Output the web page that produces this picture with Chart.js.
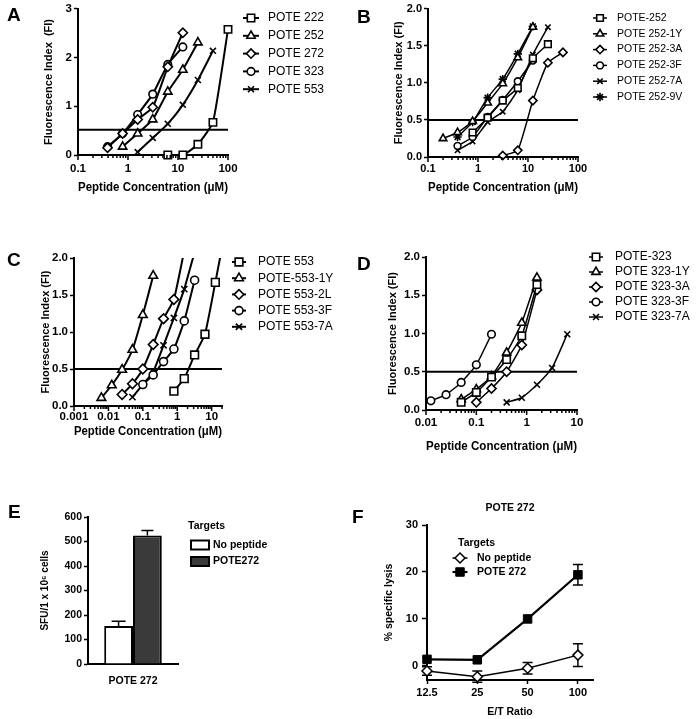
<!DOCTYPE html>
<html lang="en">
<head>
<meta charset="UTF-8">
<title>POTE peptides: binding, ELISPOT and lysis</title>
<script src="https://cdn.jsdelivr.net/npm/chart.js"></script>
<style>
  html, body { margin: 0; padding: 0; background: #fff; }
  body { position: relative; width: 697px; height: 719px; overflow: hidden; }
  canvas { position: absolute; }
  .tag { position: absolute; font: bold 19px "Liberation Sans", Arial, sans-serif; line-height: 20px; color: #000; }
</style>
</head>
<body>
  <canvas id="chartA" width="348" height="215" style="left:0;top:0"></canvas>
  <canvas id="chartB" width="347" height="215" style="left:350px;top:0"></canvas>
  <canvas id="chartC" width="348" height="230" style="left:0;top:230px"></canvas>
  <canvas id="chartD" width="347" height="230" style="left:350px;top:230px"></canvas>
  <canvas id="chartE" width="348" height="259" style="left:0;top:460px"></canvas>
  <canvas id="chartF" width="347" height="259" style="left:350px;top:460px"></canvas>

  <div class="tag" style="left:7px;top:5px">A</div>
  <div class="tag" style="left:357px;top:7px">B</div>
  <div class="tag" style="left:7px;top:250px">C</div>
  <div class="tag" style="left:357px;top:254px">D</div>
  <div class="tag" style="left:8px;top:502px">E</div>
  <div class="tag" style="left:352px;top:507px">F</div>

<script>
// ---- Panel A: parent peptides ----
const concA = [0.39, 0.78, 1.56, 3.125, 6.25, 12.5, 25, 50, 100];
const aPote222 = [null, null, null, null, 0, 0, 0.22, 0.67, 2.58];
const aPote252 = [null, 0.17, 0.44, 0.73, 1.30, 1.75, 2.31, null, null];
const aPote272 = [0.15, 0.44, 0.73, 0.98, 1.81, 2.51, null, null, null];
const aPote323 = [0.17, 0.44, 0.83, 1.25, 1.86, 2.22, null, null, null];
const aPote553 = [null, null, 0.06, 0.35, 0.64, 1.03, 1.54, 2.14, null];
const majorsA = [0.1, 1, 10, 100];

// ---- Panel B: POTE 252 variants ----
const concB = [0.2, 0.39, 0.78, 1.56, 3.125, 6.25, 12.5, 25, 50];
const b252   = [null, null, 0.33, 0.53, 0.76, 0.93, 1.33, 1.52, null];
const b252_1Y = [0.25, 0.33, 0.48, 0.73, 0.99, 1.34, 1.75, null, null];
const b252_3A = [null, null, null, null, 0.02, 0.09, 0.76, 1.27, 1.41];
const b252_3F = [null, 0.15, 0.27, 0.54, 0.77, 1.02, 1.30, null, null];
const b252_7A = [null, 0.09, 0.21, 0.47, 0.61, 0.90, 1.38, 1.75, null];
const b252_9V = [null, 0.27, 0.47, 0.80, 1.05, 1.39, 1.76, null, null];
const majorsB = [0.1, 1, 10, 100];

// ---- Panel C: POTE 553 variants ----
const concC = [0.00625, 0.0125, 0.025, 0.05, 0.1, 0.2, 0.4, 0.8, 1.6, 3.2, 6.4, 12.8, 25.6];
const c553    = [null, null, null, null, null, null, null, 0.20, 0.37, 0.69, 0.97, 1.67, 2.40];
const c553_1Y = [0.11, 0.28, 0.49, 0.76, 1.23, 1.76, null, null, null, null, null, null, null];
const c553_2L = [null, null, 0.155, 0.30, 0.50, 0.83, 1.18, 1.44, 2.10, null, null, null, null];
const c553_3F = [null, null, null, null, 0.29, 0.42, 0.60, 0.77, 1.15, 1.70, null, null, null];
const c553_7A = [null, null, null, 0.12, 0.29, 0.46, 0.82, 1.19, 1.58, 2.08, null, null, null];
const majorsC = [0.001, 0.01, 0.1, 1, 10];

// ---- Panel D: POTE 323 variants ----
const concD = [0.0125, 0.025, 0.05, 0.1, 0.2, 0.4, 0.8, 1.6, 3.2, 6.4];
const d323    = [null, null, 0.10, 0.23, 0.43, 0.66, 0.97, 1.64, null, null];
const d323_1Y = [null, null, 0.14, 0.27, 0.44, 0.75, 1.14, 1.73, null, null];
const d323_3A = [null, null, null, 0.10, 0.28, 0.50, 0.85, 1.57, null, null];
const d323_3F = [0.12, 0.20, 0.36, 0.59, 0.99, null, null, null, null, null];
const d323_7A = [null, null, null, null, null, 0.10, 0.16, 0.33, 0.55, 0.99];
const majorsD = [0.01, 0.1, 1, 10];

const fiTicks3 = [0, 1, 2, 3];
const fiTicks2 = [0, 0.5, 1, 1.5, 2];

// ---- Panel E: ELISPOT ----
const eCategories = ['POTE 272'];
const eNoPeptide = [155];
const eNoPeptideErr = [20];
const ePote272 = [525];
const ePote272Err = [20];
const eTicks = [0, 100, 200, 300, 400, 500, 600];

// ---- Panel F: lysis ----
const fRatios = ['12.5', '25', '50', '100'];
const fNoPeptide = [-1.1, -2.3, -0.5, 2.3];
const fNoPeptideErr = [0.9, 1.2, 1.2, 2.4];
const fPote272 = [1.4, 1.3, 10.0, 19.4];
const fPote272Err = [0, 0, 0, 2.2];
const fTicks = [0, 10, 20, 30];

const FONT = '"Liberation Sans", Arial, sans-serif';
Chart.defaults.font.family = FONT;
Chart.defaults.color = '#000';
Chart.defaults.animation = false;

const MARK_R = { rect: 5.2, rectRot: 4.6, circle: 3.8, triangle: 4.8, crossRot: 4.2, star: 4.6 };

function decadeTicks(majors, max) {
    const out = [];
    majors.forEach(m => {
        for (let k = 1; k < 10; k++) {
            const v = +(m * k).toPrecision(4);
            if (v <= max) out.push(v);
        }
    });
    return out;
}

// short minor ticks, longer ones at the decades
function logTicks(majors) {
    return {
        id: 'logTicks',
        afterDraw(chart) {
            const s = chart.scales.x, ctx = chart.ctx;
            ctx.save();
            ctx.strokeStyle = '#000';
            ctx.lineWidth = 1.5;
            s.ticks.forEach(t => {
                const px = s.getPixelForValue(t.value);
                const len = majors.includes(t.value) ? 5 : 3;
                ctx.beginPath();
                ctx.moveTo(px, s.top);
                ctx.lineTo(px, s.top + len);
                ctx.stroke();
            });
            ctx.restore();
        }
    };
}

function marker(ctx, style, r, fill, bw, x, y) {
    ctx.fillStyle = fill;
    ctx.strokeStyle = '#000';
    ctx.lineWidth = bw;
    Chart.helpers.drawPoint(ctx, { pointStyle: style, radius: r, rotation: 0, borderWidth: bw }, x, y);
}

function legendPlugin(cfg) {
    return {
        id: 'sideLegend',
        afterDraw(chart) {
            const ctx = chart.ctx;
            ctx.save();
            ctx.textBaseline = 'middle';
            ctx.textAlign = 'left';
            if (cfg.title) {
                ctx.fillStyle = '#000';
                ctx.font = cfg.title.font;
                ctx.textAlign = 'center';
                ctx.fillText(cfg.title.text, cfg.title.x, cfg.title.y);
                ctx.textAlign = 'left';
            }
            if (cfg.header) {
                ctx.fillStyle = '#000';
                ctx.font = cfg.headerFont;
                ctx.fillText(cfg.header, cfg.headerX, cfg.headerY);
            }
            let y = cfg.y;
            chart.data.datasets.forEach(ds => {
                if (ds.isRef) return;
                if (cfg.boxes) {
                    ctx.fillStyle = ds.backgroundColor;
                    ctx.fillRect(cfg.x, y - cfg.boxH / 2, cfg.boxW, cfg.boxH);
                    ctx.strokeStyle = '#000';
                    ctx.lineWidth = 2;
                    ctx.strokeRect(cfg.x, y - cfg.boxH / 2, cfg.boxW, cfg.boxH);
                } else {
                    ctx.strokeStyle = '#000';
                    ctx.lineWidth = ds.borderWidth;
                    ctx.beginPath();
                    ctx.moveTo(cfg.x - cfg.lineLen / 2, y);
                    ctx.lineTo(cfg.x + cfg.lineLen / 2, y);
                    ctx.stroke();
                    marker(ctx, ds.pointStyle, ds.pointRadius, ds.pointBackgroundColor, ds.pointBorderWidth, cfg.x, y);
                }
                ctx.fillStyle = '#000';
                ctx.font = cfg.font;
                ctx.fillText(ds.label, cfg.textX, y);
                y += cfg.gap;
            });
            ctx.restore();
        }
    };
}

const errorBars = {
    id: 'errorBars',
    beforeDatasetsDraw(chart) {
        const ctx = chart.ctx, ys = chart.scales.y;
        ctx.save();
        ctx.strokeStyle = '#000';
        chart.data.datasets.forEach((ds, di) => {
            if (!ds.errors) return;
            const meta = chart.getDatasetMeta(di);
            ctx.lineWidth = 1.5;
            meta.data.forEach((el, i) => {
                const err = ds.errors[i];
                if (!err) return;
                const raw = ds.data[i];
                const v = typeof raw === 'object' ? raw.y : raw;
                const top = ys.getPixelForValue(v + err);
                const bottom = ds.errBoth ? ys.getPixelForValue(v - err) : el.y;
                const hw = ds.capWidth / 2;
                ctx.beginPath();
                ctx.moveTo(el.x, top);
                ctx.lineTo(el.x, bottom);
                ctx.moveTo(el.x - hw, top);
                ctx.lineTo(el.x + hw, top);
                if (ds.errBoth) {
                    ctx.moveTo(el.x - hw, bottom);
                    ctx.lineTo(el.x + hw, bottom);
                }
                ctx.stroke();
            });
        });
        ctx.restore();
    }
};

function doseChart(id, p) {
    const yTitleSize = 11, xTitleSize = 12;
    const padLeft = p.box.yTitleX - yTitleSize * 0.6;
    const scaleBottom = p.box.xTitleY + xTitleSize * 0.6;
    const datasets = p.series.map(s => ({
        label: s.label,
        data: p.conc.map((c, i) => ({ x: c, y: s.values[i] })).filter(pt => pt.y !== null),
        borderColor: '#000',
        borderWidth: p.lineWidth,
        tension: 0.15,
        pointStyle: s.marker,
        pointRadius: MARK_R[s.marker] * p.markScale,
        pointBackgroundColor: '#fff',
        pointBorderColor: '#000',
        pointBorderWidth: 1.6,
        clip: { left: false, right: 6, top: 0, bottom: false }
    }));
    datasets.push({
        isRef: true,
        label: 'threshold',
        data: [{ x: p.xMin, y: p.thresh }, { x: p.xMax, y: p.thresh }],
        borderColor: '#000',
        borderWidth: 2,
        pointRadius: 0,
        tension: 0,
        clip: false
    });

    return new Chart(document.getElementById(id), {
        type: 'line',
        data: { datasets },
        options: {
            responsive: false,
            animation: false,
            layout: { padding: { left: padLeft, right: p.box.W - p.box.R, top: p.box.T, bottom: p.box.H - scaleBottom } },
            plugins: { legend: { display: false }, tooltip: { enabled: false } },
            scales: {
                x: {
                    type: 'logarithmic',
                    min: p.xMin,
                    max: p.xMax,
                    afterBuildTicks: s => { s.ticks = decadeTicks(p.majors, p.xMax).map(v => ({ value: v })); },
                    afterFit: s => { s.height = scaleBottom - p.box.B; },
                    ticks: {
                        autoSkip: false, maxRotation: 0, padding: p.box.xTickPad,
                        font: { size: p.tickSize, weight: 'bold' },
                        callback: v => p.majors.includes(v) ? String(v) : ''
                    },
                    grid: { display: false, drawTicks: false },
                    border: { display: true, width: 2, color: '#000' },
                    title: { display: true, text: 'Peptide Concentration (μM)', font: { size: xTitleSize, weight: 'bold' }, padding: 0 }
                },
                y: {
                    min: 0,
                    max: p.yMax,
                    afterBuildTicks: s => { s.ticks = p.yTicks.map(v => ({ value: v })); },
                    afterFit: s => { s.width = p.box.L - padLeft; },
                    ticks: { padding: 2, font: { size: p.tickSize, weight: 'bold' }, callback: p.yFmt },
                    grid: { drawOnChartArea: false, tickLength: 4, tickWidth: 1.5, tickColor: '#000' },
                    border: { width: 2, color: '#000' },
                    title: { display: true, text: p.yTitle, font: { size: yTitleSize, weight: 'bold' }, padding: 0 }
                }
            }
        },
        plugins: [logTicks(p.majors), legendPlugin(p.legend)]
    });
}

doseChart('chartA', {
    conc: concA, majors: majorsA, xMin: 0.1, xMax: 100, yMax: 3, yTicks: fiTicks3, tickSize: 11.5,
    yFmt: v => String(v), yTitle: 'Fluorescence Index  (FI)', thresh: 0.52, lineWidth: 2, markScale: 1,
    box: { W: 348, H: 215, L: 78, R: 228, T: 7, B: 155, yTitleX: 49, xTitleY: 188, xTickPad: 7 },
    legend: { x: 251, lineLen: 16, textX: 268, y: 18, gap: 17.8, font: '12px ' + FONT },
    series: [
        { label: 'POTE 222', values: aPote222, marker: 'rect' },
        { label: 'POTE 252', values: aPote252, marker: 'triangle' },
        { label: 'POTE 272', values: aPote272, marker: 'rectRot' },
        { label: 'POTE 323', values: aPote323, marker: 'circle' },
        { label: 'POTE 553', values: aPote553, marker: 'crossRot' }
    ]
});

doseChart('chartB', {
    conc: concB, majors: majorsB, xMin: 0.1, xMax: 100, yMax: 2, yTicks: fiTicks2, tickSize: 11,
    yFmt: v => v.toFixed(1), yTitle: 'Fluorescence Index (FI)', thresh: 0.5, lineWidth: 1.5, markScale: 0.9,
    box: { W: 347, H: 215, L: 78, R: 228, T: 7, B: 157, yTitleX: 49, xTitleY: 188, xTickPad: 5 },
    legend: { x: 250, lineLen: 14, textX: 267, y: 18, gap: 15.8, font: '10.5px ' + FONT },
    series: [
        { label: 'POTE-252', values: b252, marker: 'rect' },
        { label: 'POTE 252-1Y', values: b252_1Y, marker: 'triangle' },
        { label: 'POTE 252-3A', values: b252_3A, marker: 'rectRot' },
        { label: 'POTE 252-3F', values: b252_3F, marker: 'circle' },
        { label: 'POTE 252-7A', values: b252_7A, marker: 'crossRot' },
        { label: 'POTE 252-9V', values: b252_9V, marker: 'star' }
    ]
});

doseChart('chartC', {
    conc: concC, majors: majorsC, xMin: 0.001, xMax: 20, yMax: 2, yTicks: fiTicks2, tickSize: 11.5,
    yFmt: v => v.toFixed(1), yTitle: 'Fluorescence Index (FI)', thresh: 0.5, lineWidth: 2, markScale: 1.05,
    box: { W: 348, H: 230, L: 74, R: 222, T: 28, B: 176, yTitleX: 46, xTitleY: 202, xTickPad: 4 },
    legend: { x: 239, lineLen: 14, textX: 258, y: 32, gap: 16.2, font: '12px ' + FONT },
    series: [
        { label: 'POTE 553', values: c553, marker: 'rect' },
        { label: 'POTE-553-1Y', values: c553_1Y, marker: 'triangle' },
        { label: 'POTE 553-2L', values: c553_2L, marker: 'rectRot' },
        { label: 'POTE 553-3F', values: c553_3F, marker: 'circle' },
        { label: 'POTE 553-7A', values: c553_7A, marker: 'crossRot' }
    ]
});

doseChart('chartD', {
    conc: concD, majors: majorsD, xMin: 0.01, xMax: 10, yMax: 2, yTicks: fiTicks2, tickSize: 11.5,
    yFmt: v => v.toFixed(1), yTitle: 'Fluorescence Index (FI)', thresh: 0.5, lineWidth: 1.5, markScale: 1,
    box: { W: 347, H: 230, L: 76, R: 227, T: 27, B: 180, yTitleX: 43, xTitleY: 217, xTickPad: 6 },
    legend: { x: 246, lineLen: 14, textX: 265, y: 27, gap: 15, font: '12px ' + FONT },
    series: [
        { label: 'POTE-323', values: d323, marker: 'rect' },
        { label: 'POTE 323-1Y', values: d323_1Y, marker: 'triangle' },
        { label: 'POTE 323-3A', values: d323_3A, marker: 'rectRot' },
        { label: 'POTE 323-3F', values: d323_3F, marker: 'circle' },
        { label: 'POTE 323-7A', values: d323_7A, marker: 'crossRot' }
    ]
});

// ELISPOT bars
new Chart(document.getElementById('chartE'), {
    type: 'bar',
    data: {
        labels: eCategories,
        datasets: [
            { label: 'No peptide', data: eNoPeptide, errors: eNoPeptideErr, capWidth: 14,
              backgroundColor: '#fff', borderColor: '#000', borderWidth: 2, barPercentage: 1, categoryPercentage: 0.64 },
            { label: 'POTE272', data: ePote272, errors: ePote272Err, capWidth: 12,
              backgroundColor: '#3a3a3a', borderColor: '#000', borderWidth: 2, barPercentage: 1, categoryPercentage: 0.64 }
        ]
    },
    options: {
        responsive: false,
        animation: false,
        layout: { padding: { left: 39, right: 170, top: 57, bottom: 20 } },
        plugins: { legend: { display: false }, tooltip: { enabled: false } },
        scales: {
            x: {
                grid: { display: false, drawTicks: false },
                border: { width: 2, color: '#000' },
                ticks: { padding: 11, font: { size: 10.5, weight: 'bold' } },
                afterFit: s => { s.height = 35; }
            },
            y: {
                min: 0,
                max: 600,
                afterBuildTicks: s => { s.ticks = eTicks.map(v => ({ value: v })); },
                afterFit: s => { s.width = 49; },
                ticks: { padding: 2, font: { size: 10.5, weight: 'bold' } },
                grid: { drawOnChartArea: false, tickLength: 4, tickWidth: 1.5, tickColor: '#000' },
                border: { width: 2, color: '#000' },
                title: { display: true, text: 'SFU/1 x 10⁶ cells', font: { size: 10, weight: 'bold' }, padding: 0 }
            }
        }
    },
    plugins: [errorBars, legendPlugin({
        boxes: true, header: 'Targets', headerFont: 'bold 10.5px ' + FONT, headerX: 188, headerY: 66,
        x: 191, boxW: 18, boxH: 9, textX: 213, y: 85, gap: 16.5, font: 'bold 10.5px ' + FONT
    })]
});

// cytotoxicity lines
new Chart(document.getElementById('chartF'), {
    type: 'line',
    data: {
        datasets: [
            { label: 'No peptide', data: fNoPeptide.map((v, i) => ({ x: i, y: v })), errors: fNoPeptideErr, errBoth: true, capWidth: 10,
              borderColor: '#000', borderWidth: 1.5, pointStyle: 'rectRot', pointRadius: 5,
              pointBackgroundColor: '#fff', pointBorderColor: '#000', pointBorderWidth: 1.5, clip: false },
            { label: 'POTE 272', data: fPote272.map((v, i) => ({ x: i, y: v })), errors: fPote272Err, errBoth: true, capWidth: 10,
              borderColor: '#000', borderWidth: 2.2, pointStyle: 'rect', pointRadius: 6,
              pointBackgroundColor: '#000', pointBorderColor: '#000', pointBorderWidth: 1, clip: false }
        ]
    },
    options: {
        responsive: false,
        animation: false,
        layout: { padding: { left: 32.7, right: 104, top: 65, bottom: 0.7 } },
        plugins: { legend: { display: false }, tooltip: { enabled: false } },
        scales: {
            x: {
                type: 'linear',
                min: 0,
                max: 3.3,
                afterBuildTicks: s => { s.ticks = fRatios.map((r, i) => ({ value: i })); },
                afterFit: s => { s.height = 38.3; },
                ticks: { padding: 2, font: { size: 11, weight: 'bold' }, callback: v => fRatios[v] },
                grid: { drawOnChartArea: false, tickLength: 4, tickWidth: 1.5, tickColor: '#000' },
                border: { width: 2, color: '#000' },
                title: { display: true, text: 'E/T Ratio', font: { size: 10.5, weight: 'bold' }, padding: 0 }
            },
            y: {
                min: -3,
                max: 30,
                afterBuildTicks: s => { s.ticks = fTicks.map(v => ({ value: v })); },
                afterFit: s => { s.width = 44.3; },
                ticks: { padding: 4, font: { size: 11, weight: 'bold' } },
                grid: { drawOnChartArea: false, tickLength: 5, tickWidth: 1.5, tickColor: '#000' },
                border: { width: 2, color: '#000' },
                title: { display: true, text: '% specific lysis', font: { size: 10.5, weight: 'bold' }, padding: 0 }
            }
        }
    },
    plugins: [errorBars, legendPlugin({
        title: { text: 'POTE 272', x: 160, y: 48, font: 'bold 10.5px ' + FONT },
        header: 'Targets', headerFont: 'bold 10.5px ' + FONT, headerX: 108, headerY: 83,
        x: 110, lineLen: 15, textX: 127, y: 98, gap: 14, font: 'bold 10.5px ' + FONT
    })]
});
</script>
</body>
</html>
